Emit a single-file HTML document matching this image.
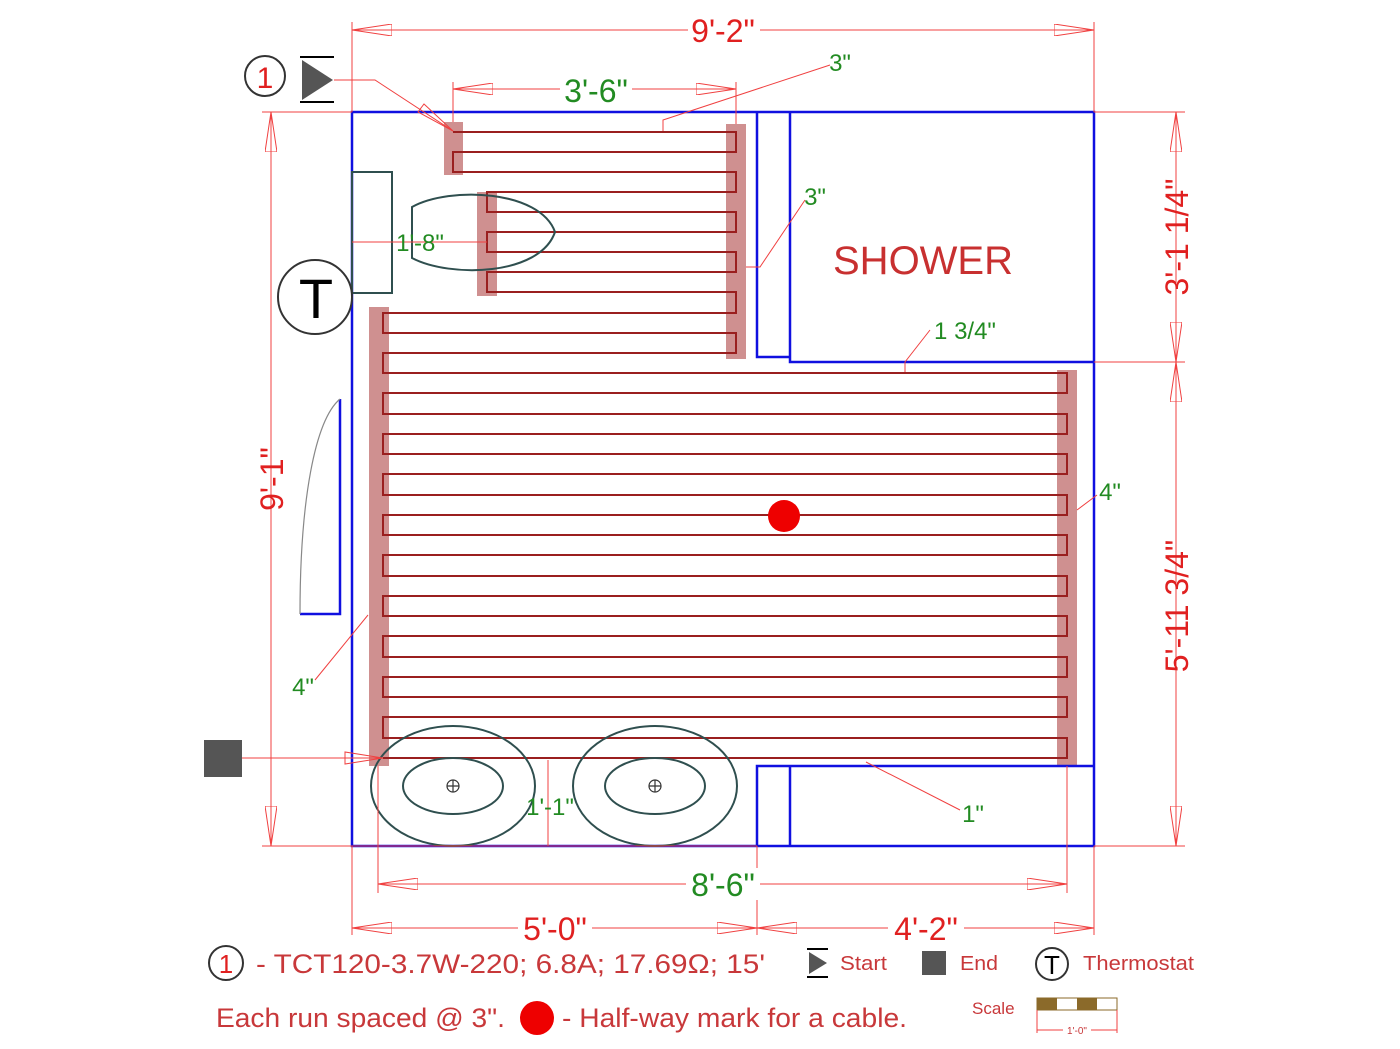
<!DOCTYPE html>
<html><head><meta charset="utf-8"><style>
html,body{margin:0;padding:0;background:#fff}
svg{display:block}
text{font-family:"Liberation Sans",sans-serif}
</style></head><body>
<svg width="1400" height="1049" viewBox="0 0 1400 1049" xmlns="http://www.w3.org/2000/svg">
<defs>
<marker id="a" viewBox="0 0 40 12" refX="40" refY="6" markerWidth="40" markerHeight="12" markerUnits="userSpaceOnUse" orient="auto-start-reverse">
<path d="M40,6 L0,0 L0,12 Z" fill="none" stroke="#f04040" stroke-width="1"/>
</marker>
</defs>
<g fill="#cf9090">
<rect x="444" y="122" width="19" height="53"/>
<rect x="477" y="192" width="20" height="104"/>
<rect x="726" y="124" width="20" height="235"/>
<rect x="369" y="307" width="20" height="459"/>
<rect x="1057" y="370" width="20" height="396"/>
</g>
<path d="M453,132 H736 V152 H453 V172 H736 V192 H487 V212 H736 V232 H487 V252 H736 V272 H487 V292 H736 V313 H383 V333 H736 V353 H383 V373 H1067 V393 H383 V414 H1067 V434 H383 V454 H1067 V474 H383 V495 H1067 V515 H383 V535 H1067 V555 H383 V576 H1067 V596 H383 V616 H1067 V636 H383 V657 H1067 V677 H383 V697 H1067 V717 H383 V738 H1067 V758 H383" fill="none" stroke="#9a1f1f" stroke-width="2"/>
<g fill="none" stroke="#1010e0" stroke-width="2.5">
<rect x="352" y="112" width="742" height="734"/>
<path d="M757,112 V357 H790 M790,112 V362 H1094"/>
<path d="M757,846 V766 H1094 M790,766 V846"/>
<path d="M340,399 V614 H300"/>
</g>
<path d="M340,399 C315,420 300,500 300,614" fill="none" stroke="#888" stroke-width="1.2"/>
<g fill="none" stroke="#2f4f4f" stroke-width="2">
<rect x="352" y="172" width="40" height="121"/>
<path d="M412,207 C450,186 540,190 555,232 C540,276 450,278 412,258 Z"/>
<ellipse cx="453" cy="786" rx="82" ry="60"/>
<ellipse cx="453" cy="786" rx="50" ry="28"/>
<ellipse cx="655" cy="786" rx="82" ry="60"/>
<ellipse cx="655" cy="786" rx="50" ry="28"/>
</g>
<g fill="none" stroke="#333" stroke-width="1.2">
<circle cx="453" cy="786" r="6"/><path d="M447,786 H459 M453,780 V792"/>
<circle cx="655" cy="786" r="6"/><path d="M649,786 H661 M655,780 V792"/>
</g>
<circle cx="315" cy="297" r="37" fill="#fff" stroke="#333" stroke-width="2"/>
<text x="316" y="318" font-size="56" text-anchor="middle" fill="#000">T</text>
<circle cx="265" cy="76" r="20" fill="none" stroke="#333" stroke-width="2"/>
<text x="265" y="88" font-size="30" text-anchor="middle" fill="#e02020">1</text>
<path d="M302,60 L333,80 L302,100 Z" fill="#555"/>
<path d="M300,57 H334 M300,102 H334" stroke="#000" stroke-width="2"/>
<path d="M334,80 H375 L453,131" fill="none" stroke="#f04040" stroke-width="1"/>
<path d="M453,131 L418,112 L424,104 Z" fill="none" stroke="#f04040" stroke-width="1"/>
<rect x="204" y="740" width="38" height="37" fill="#555"/>
<path d="M242,758 H383" stroke="#f04040" stroke-width="1" fill="none"/>
<path d="M383,758 L345,752 L345,764 Z" fill="none" stroke="#f04040" stroke-width="1"/>
<circle cx="784" cy="516" r="16" fill="#ee0000"/>
<g stroke="#f04040" stroke-width="1" fill="none">
<path d="M352,22 V112 M1094,22 V112"/>
<path d="M352,30 H1094" marker-start="url(#a)" marker-end="url(#a)"/>
<path d="M262,112 H352 M262,846 H757"/>
<path d="M271,112 V846" marker-start="url(#a)" marker-end="url(#a)"/>
<path d="M1094,112 H1185 M1094,362 H1185 M1094,846 H1185"/>
<path d="M1176,112 V362" marker-start="url(#a)" marker-end="url(#a)"/>
<path d="M1176,362 V846" marker-start="url(#a)" marker-end="url(#a)"/>
<path d="M352,846 V935 M757,846 V935 M1094,846 V935"/>
<path d="M352,928 H757" marker-start="url(#a)" marker-end="url(#a)"/>
<path d="M757,928 H1094" marker-start="url(#a)" marker-end="url(#a)"/>
<path d="M378,766 V893 M1067,766 V893"/>
<path d="M378,884 H1067" marker-start="url(#a)" marker-end="url(#a)"/>
<path d="M453,82 V122 M736,82 V124"/>
<path d="M453,89 H736" marker-start="url(#a)" marker-end="url(#a)"/>
<path d="M830,65 L663,120 V131"/>
<path d="M805,200 L760,267 H746"/>
<path d="M930,330 L905,362 V372"/>
<path d="M1097,495 L1077,510"/>
<path d="M315,680 L368,615"/>
<path d="M960,810 L866,762"/>
<path d="M548,760 V846"/>
<path d="M352,242 H487"/>
</g>
<g fill="#e02020" font-size="32" text-anchor="middle">
<rect x="688" y="12" width="72" height="34" fill="#fff"/>
<text x="723" y="42">9'-2"</text>
<rect x="518" y="912" width="74" height="34" fill="#fff"/>
<text x="555" y="940">5'-0"</text>
<rect x="888" y="912" width="76" height="34" fill="#fff"/>
<text x="926" y="940">4'-2"</text>
<text transform="translate(283,479) rotate(-90)">9'-1"</text>
<text transform="translate(1188,237) rotate(-90)">3'-1 1/4"</text>
<text transform="translate(1188,606) rotate(-90)">5'-11 3/4"</text>
</g>
<g fill="#228b22" text-anchor="middle">
<rect x="560" y="74" width="72" height="32" fill="#fff"/>
<text x="596" y="102" font-size="32">3'-6"</text>
<rect x="686" y="868" width="74" height="32" fill="#fff"/>
<text x="723" y="896" font-size="32">8'-6"</text>
<text x="840" y="71" font-size="24">3"</text>
<text x="815" y="205" font-size="24">3"</text>
<text x="965" y="339" font-size="24">1 3/4"</text>
<text x="1110" y="500" font-size="24">4"</text>
<text x="303" y="695" font-size="24">4"</text>
<text x="973" y="822" font-size="24">1"</text>
<text x="550" y="815" font-size="24">1'-1"</text>
<text x="420" y="251" font-size="24">1'-8"</text>
</g>
<text x="923" y="274" font-size="40" text-anchor="middle" fill="#c83030">SHOWER</text>
<circle cx="226" cy="963" r="17" fill="none" stroke="#333" stroke-width="2"/>
<text x="226" y="973" font-size="26" text-anchor="middle" fill="#e02020">1</text>
<text x="256" y="973" font-size="27" fill="#c8383a" textLength="509" lengthAdjust="spacingAndGlyphs">- TCT120-3.7W-220; 6.8A; 17.69Ω; 15'</text>
<path d="M809,952 L827,963 L809,974 Z" fill="#555"/>
<path d="M807,949 H828 M807,977 H828" stroke="#000" stroke-width="2"/>
<text x="840" y="970" font-size="20" fill="#c8383a" textLength="47" lengthAdjust="spacingAndGlyphs">Start</text>
<rect x="922" y="951" width="24" height="24" fill="#555"/>
<text x="960" y="970" font-size="20" fill="#c8383a" textLength="38" lengthAdjust="spacingAndGlyphs">End</text>
<circle cx="1052" cy="964" r="16" fill="none" stroke="#333" stroke-width="2"/>
<text x="1052" y="974" font-size="26" text-anchor="middle" fill="#000">T</text>
<text x="1083" y="970" font-size="20" fill="#c8383a" textLength="111" lengthAdjust="spacingAndGlyphs">Thermostat</text>
<text x="216" y="1027" font-size="27" fill="#c8383a" textLength="289" lengthAdjust="spacingAndGlyphs">Each run spaced @ 3".</text>
<circle cx="537" cy="1018" r="17" fill="#ee0000"/>
<text x="562" y="1027" font-size="27" fill="#c8383a" textLength="345" lengthAdjust="spacingAndGlyphs">- Half-way mark for a cable.</text>
<text x="972" y="1014" font-size="17" fill="#c8383a">Scale</text>
<rect x="1037" y="998" width="80" height="12" fill="#fff" stroke="#8b6a2a" stroke-width="1"/>
<rect x="1037" y="998" width="20" height="12" fill="#8b6a2a"/>
<rect x="1077" y="998" width="20" height="12" fill="#8b6a2a"/>
<path d="M1037,1010 V1033 M1117,1010 V1033 M1037,1030 H1117" stroke="#f04040" stroke-width="1"/>
<rect x="1063" y="1024" width="28" height="12" fill="#fff"/>
<text x="1077" y="1034" font-size="10" text-anchor="middle" fill="#c8383a">1'-0"</text>
</svg>
</body></html>
